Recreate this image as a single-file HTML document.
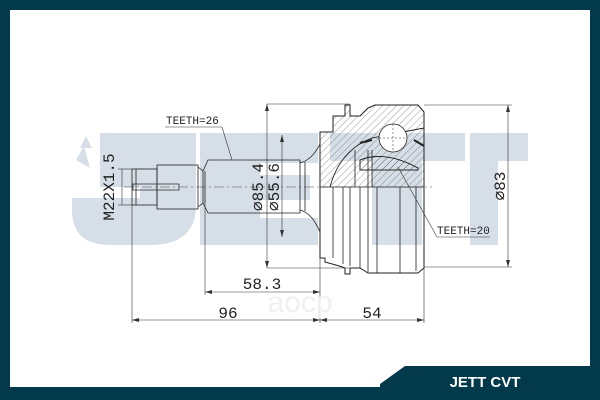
<!DOCTYPE html>
<html><head><meta charset="utf-8"><style>
html,body{margin:0;padding:0;background:#fff}
svg{display:block}
text{font-family:"Liberation Mono",monospace;fill:#222}
</style></head><body>
<svg width="600" height="400" viewBox="0 0 600 400" xmlns="http://www.w3.org/2000/svg">
<defs>
<pattern id="h" width="5" height="5" patternUnits="userSpaceOnUse" patternTransform="rotate(45)">
<line x1="0" y1="0" x2="0" y2="5" stroke="#555" stroke-width="0.6"/>
</pattern>
</defs>
<rect width="600" height="400" fill="#023a4c"/>
<rect x="10" y="10" width="580" height="377" fill="#fff"/>
<polygon points="405,366 590,366 590,400 380,400 380,384" fill="#023a4c"/>
<text x="485" y="387" text-anchor="middle" style="font-family:'Liberation Sans',sans-serif;font-weight:bold;font-size:15px;fill:#fff">JETT CVT</text>

<g fill="#d6dee7">
<path d="M100,133 H196 V205 Q196,245 150,245 H110 Q72,245 72,210 V198 H140 V187 H100 Z"/>
<rect x="200" y="133" width="118" height="30"/>
<rect x="200" y="133" width="60" height="112"/>
<rect x="200" y="175" width="110" height="25"/>
<rect x="200" y="218" width="118" height="27"/>
<rect x="330" y="133" width="135" height="28"/>
<rect x="372" y="133" width="50" height="112"/>
<rect x="470" y="133" width="58" height="28"/>
<rect x="470" y="133" width="28" height="112"/>
</g>
<path d="M80,148 L86,136 L92,148 Z M76,160 L84,146 L90,168 Z" fill="#d6dee7"/>

<g stroke="#222" stroke-width="0.8" fill="none">
<rect x="132" y="169" width="25" height="36"/>
<line x1="136" y1="169" x2="136" y2="205"/>
<rect x="157" y="165" width="41" height="44"/>
<path d="M198,167 L203,171 V203 L198,207"/>
<path d="M203,171 L208,160 H300 V213 H208 L203,203"/>
<line x1="205" y1="171" x2="205" y2="203"/>
<path d="M300,163 Q312,160 320,144 M300,210 Q312,213 320,232"/>
<line x1="305" y1="162" x2="305" y2="211"/>
<rect x="133" y="184" width="46" height="6" stroke-width="0.7"/>
<path d="M320,187 V132 H333 V116 H345 V105 H350 V116 H360 L368,108 L375,105 H418 L424,112 V187 Z" fill="url(#h)"/>
<path d="M320,187 V132 H333 V116 H345 V105 H350 V116 H360 L368,108 L375,105 H418 L424,112 V187" stroke-width="1"/>
<path d="M330,187 Q340,150 372,138 L424,128" stroke-width="0.9"/>
<path d="M355,187 V150 M368,187 V150 M372,187 V150" />
<path d="M360,160 Q385,150 418,168 L418,170 H360 Z" fill="url(#h)"/>
<path d="M360,160 Q385,150 418,168 L418,170 H360 Z"/>
<circle cx="393" cy="138" r="14" fill="#fff"/>
<path d="M379,138 H407 M393,124 V152" stroke-dasharray="2 2" stroke-width="0.5"/>
<path d="M360,143 L372,140 M414,140 L424,146" stroke-width="2"/>
<path d="M320,187 V258 H325 V262 Q340,266 345,268 V274 H350 V268 H360 L368,273 H418 L424,268 V187" stroke-width="1"/>
<path d="M333,187 V258 M343,187 V264 M350,187 V266 M360,187 V268 M368,187 V272 M377,187 V273 M400,187 V273 M416,187 V271"/>
</g>

<line x1="124" y1="187" x2="432" y2="187" stroke="#444" stroke-width="0.6" stroke-dasharray="10 3 2 3"/>

<g stroke="#333" stroke-width="0.6" fill="none">
<line x1="424" y1="105" x2="512" y2="105"/><line x1="424" y1="267" x2="512" y2="267"/>
<line x1="508" y1="105" x2="508" y2="267"/>
<line x1="267" y1="104" x2="350" y2="104"/><line x1="267" y1="268" x2="350" y2="268"/>
<line x1="267" y1="104" x2="267" y2="268"/>
<line x1="282" y1="135" x2="282" y2="237"/>
<line x1="205" y1="200" x2="205" y2="295"/>
<line x1="205" y1="292" x2="320" y2="292"/>
<line x1="132" y1="205" x2="132" y2="323"/>
<line x1="320" y1="258" x2="320" y2="323"/>
<line x1="424" y1="268" x2="424" y2="323"/>
<line x1="132" y1="320" x2="424" y2="320"/>
<line x1="118" y1="169" x2="132" y2="169"/><line x1="118" y1="205" x2="132" y2="205"/>
<line x1="122" y1="169" x2="122" y2="205"/>
<path d="M165,127 H222 L232,160"/>
<path d="M490,237 H437 L398,167"/>
</g>
<g fill="#333">
<path d="M508,105 l-2,7 h4z M508,267 l-2,-7 h4z"/>
<path d="M267,104 l-2,7 h4z M267,268 l-2,-7 h4z"/>
<path d="M282,135 l-2,7 h4z M282,237 l-2,-7 h4z"/>
<path d="M205,292 l7,-2 v4z M320,292 l-7,-2 v4z"/>
<path d="M132,320 l7,-2 v4z M320,320 l-7,-2 v4z M320,320 l7,-2 v4z M424,320 l-7,-2 v4z"/>
</g>

<g>
<text x="166" y="124" style="font-size:11px">TEETH=26</text>
<text x="437" y="234" style="font-size:11px">TEETH=20</text>
<text x="262" y="289" text-anchor="middle" style="font-size:16px">58.3</text>
<text x="228" y="318" text-anchor="middle" style="font-size:16px">96</text>
<text x="372" y="318" text-anchor="middle" style="font-size:16px">54</text>
<text transform="translate(114,187) rotate(-90)" text-anchor="middle" style="font-size:16px">M22X1.5</text>
<text transform="translate(263,187) rotate(-90)" text-anchor="middle" style="font-size:16px">⌀85.4</text>
<text transform="translate(279,187) rotate(-90)" text-anchor="middle" style="font-size:16px">⌀55.6</text>
<text transform="translate(505,186) rotate(-90)" text-anchor="middle" style="font-size:16px">⌀83</text>
</g>
<text x="300" y="312" text-anchor="middle" style="font-family:'Liberation Sans',sans-serif;font-size:30px;fill:#f0f0f0">aocp</text>
</svg>
</body></html>
